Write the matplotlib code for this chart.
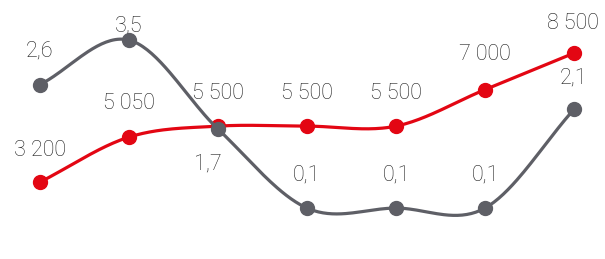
import numpy as np
import matplotlib.pyplot as plt

plt.switch_backend('Agg')
plt.rcParams['font.family'] = ['Roboto', 'DejaVu Sans']

# данные
x_idx = [0, 1, 2, 3, 4, 5, 6]
red_vals = [3200, 5050, 5500, 5500, 5500, 7000, 8500]
red_labels = ["3 200", "5 050", "5 500", "5 500", "5 500", "7 000", "8 500"]
gray_vals = [2.6, 3.5, 1.7, 0.1, 0.1, 0.1, 2.1]
gray_labels = ["2,6", "3,5", "1,7", "0,1", "0,1", "0,1", "2,1"]

RED = '#e30613'
GRAY = '#5e5f66'
TXT = '#1e1e1e'


# сглаживание Catmull-Rom
def smooth(xs, ys, n=40):
    xs = np.asarray(xs, float)
    ys = np.asarray(ys, float)
    m = np.zeros_like(ys)
    m[1:-1] = (ys[2:] - ys[:-2]) / 2
    m[0] = ys[1] - ys[0]
    m[-1] = ys[-1] - ys[-2]
    out_x, out_y = [], []
    for i in range(len(xs) - 1):
        t = np.linspace(0, 1, n)
        h00 = 2 * t**3 - 3 * t**2 + 1
        h10 = t**3 - 2 * t**2 + t
        h01 = -2 * t**3 + 3 * t**2
        h11 = t**3 - t**2
        out_x.extend(xs[i] + t * (xs[i + 1] - xs[i]))
        out_y.extend(h00 * ys[i] + h10 * m[i] + h01 * ys[i + 1] + h11 * m[i + 1])
    return out_x, out_y


fig = plt.figure(figsize=(6.05, 2.59), dpi=100)
ax = fig.add_axes([0, 0, 1, 1])
ax2 = ax.twinx()

sx, sy = smooth(x_idx, red_vals)
ax.plot(sx, sy, color=RED, lw=2.3, zorder=3)
ax.plot(x_idx, red_vals, 'o', color=RED, ms=10, zorder=4)

gx, gy = smooth(x_idx, gray_vals)
ax2.plot(gx, gy, color=GRAY, lw=2.3, zorder=3)
ax2.plot(x_idx, gray_vals, 'o', color=GRAY, ms=10, zorder=4)

ax.set_xlim(-0.449, 6.348)
ax.set_ylim(41, 10682)
ax2.set_ylim(-0.931, 4.312)

for a in (ax, ax2):
    a.axis('off')

red_off = [(0, 32), (0, 34), (0, 33), (0, 33), (0, 33), (0, 35), (-1, 30)]
for x, v, lab, off in zip(x_idx, red_vals, red_labels, red_off):
    ax.annotate(lab, (x, v), xytext=off, textcoords='offset pixels',
                ha='center', va='center', fontsize=15.5, fontweight='light', color=TXT)

gray_off = [(0, 34), (0, 14), (-10, -35), (0, 33), (0, 33), (0, 33), (0, 31)]
for x, v, lab, off in zip(x_idx, gray_vals, gray_labels, gray_off):
    ax2.annotate(lab, (x, v), xytext=off, textcoords='offset pixels',
                 ha='center', va='center', fontsize=15.5, fontweight='light', color=TXT)

fig.savefig('out.png', dpi=100)
